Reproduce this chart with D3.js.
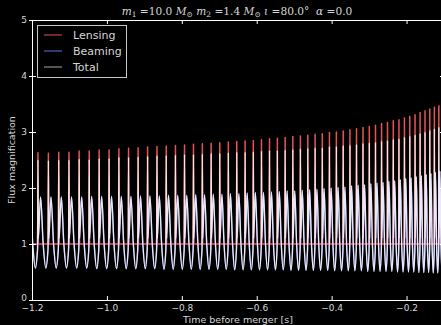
<!DOCTYPE html>
<html>
<head>
<meta charset="utf-8">
<title>flux magnification</title>
<script src="https://cdn.jsdelivr.net/npm/d3@7"></script>
<style>
    body { margin: 0; background: #000; }
    svg { display: block; }
    text { font-family: "DejaVu Sans", sans-serif; fill: #d6d6d6; }
</style>
</head>
<body>
<svg id="chart" width="441" height="325"></svg>
<script>
// time of each lensing spike [s], one per orbit
var spikeTimes = [-1.2120, -1.1841, -1.1562, -1.1286, -1.1013, -1.0741, -1.0473, -1.0207, -0.9942, -0.9680,
    -0.9422, -0.9167, -0.8914, -0.8663, -0.8416, -0.8170, -0.7928, -0.7689, -0.7452, -0.7217,
    -0.6987, -0.6758, -0.6533, -0.6310, -0.6091, -0.5873, -0.5659, -0.5449, -0.5241, -0.5036,
    -0.4834, -0.4636, -0.4441, -0.4249, -0.4059, -0.3873, -0.3691, -0.3511, -0.3336, -0.3163,
    -0.2994, -0.2829, -0.2667, -0.2509, -0.2354, -0.2203, -0.2056, -0.1913, -0.1773, -0.1638,
    -0.1507, -0.1379, -0.1257, -0.1138, -0.1024];
// peak of the lensing curve at each spike
var lensPeak = [2.62, 2.63, 2.62, 2.64, 2.64, 2.66, 2.66, 2.68, 2.68, 2.70,
    2.71, 2.72, 2.73, 2.74, 2.75, 2.76, 2.77, 2.78, 2.79, 2.80,
    2.81, 2.82, 2.83, 2.84, 2.85, 2.86, 2.88, 2.89, 2.90, 2.92,
    2.93, 2.94, 2.96, 2.97, 2.99, 3.00, 3.02, 3.04, 3.06, 3.08,
    3.10, 3.12, 3.15, 3.17, 3.20, 3.22, 3.25, 3.28, 3.31, 3.35,
    3.38, 3.41, 3.44, 3.47, 3.50];
// peak of the total curve at each spike
var totalPeak = [2.49, 2.50, 2.49, 2.50, 2.50, 2.52, 2.51, 2.53, 2.53, 2.55,
    2.55, 2.56, 2.57, 2.58, 2.58, 2.59, 2.60, 2.60, 2.61, 2.62,
    2.62, 2.63, 2.64, 2.64, 2.65, 2.66, 2.67, 2.67, 2.68, 2.69,
    2.70, 2.71, 2.72, 2.72, 2.74, 2.74, 2.76, 2.77, 2.78, 2.80,
    2.81, 2.82, 2.84, 2.85, 2.87, 2.88, 2.91, 2.93, 2.95, 2.98,
    3.00, 3.03, 3.06, 3.09, 3.12];
// beaming maximum / minimum in each orbit
var beamMax = [1.84, 1.84, 1.84, 1.84, 1.84, 1.84, 1.85, 1.85, 1.85, 1.85,
    1.85, 1.86, 1.86, 1.86, 1.87, 1.87, 1.87, 1.88, 1.88, 1.89,
    1.89, 1.90, 1.90, 1.91, 1.92, 1.92, 1.93, 1.94, 1.95, 1.95,
    1.96, 1.97, 1.98, 1.99, 2.00, 2.01, 2.02, 2.04, 2.05, 2.06,
    2.08, 2.09, 2.10, 2.12, 2.13, 2.15, 2.17, 2.18, 2.20, 2.22,
    2.24, 2.26, 2.28, 2.30, 2.33];
var beamMin = [0.57, 0.57, 0.57, 0.57, 0.57, 0.57, 0.56, 0.56, 0.56, 0.56,
    0.56, 0.56, 0.56, 0.55, 0.55, 0.55, 0.55, 0.55, 0.55, 0.55,
    0.55, 0.54, 0.54, 0.54, 0.54, 0.54, 0.54, 0.54, 0.53, 0.53,
    0.53, 0.53, 0.53, 0.53, 0.52, 0.52, 0.52, 0.52, 0.52, 0.51,
    0.51, 0.51, 0.51, 0.51, 0.50, 0.50, 0.50, 0.50, 0.49, 0.49,
    0.49, 0.48, 0.48, 0.48, 0.47];

var xTicks = [-1.2, -1.0, -0.8, -0.6, -0.4, -0.2];
var yTicks = [0, 1, 2, 3, 4, 5];
var seriesNames = ["Lensing", "Beaming", "Total"];
var seriesColors = ["#ff5e5e", "#7a7aff", "#ffffff"];
var seriesOpacity = [0.9, 0.9, 0.85];

var svg = d3.select("#chart");
var L = 32, R = 444, T = 20, B = 300;

var x = d3.scaleLinear().domain([-1.2, -0.1]).range([L, R]);
var y = d3.scaleLinear().domain([0, 5]).range([B, T]);

svg.append("rect").attr("width", 441).attr("height", 325).attr("fill", "#000");

svg.append("clipPath").attr("id", "clip")
    .append("rect").attr("x", L).attr("y", T).attr("width", R - L).attr("height", B - T);

// build the curve points orbit by orbit
var lensPts = [], beamPts = [], totalPts = [];
spikeTimes.forEach(function(t, i) {
    var P = i < spikeTimes.length - 1 ? spikeTimes[i + 1] - t : t - spikeTimes[i - 1];
    var w = 0.04 * P;
    var sh = 1 + 0.3 * (lensPeak[i] - 1);
    lensPts.push([t - w, 1], [t - w / 3, sh], [t, lensPeak[i]], [t + w / 3, sh], [t + w, 1]);
    beamPts.push([t, 1], [t + 0.25 * P, beamMax[i]], [t + 0.5 * P, 1], [t + 0.75 * P, beamMin[i]]);
    totalPts.push([t - w, 0.9], [t, totalPeak[i]], [t + w, 1.1],
        [t + 0.25 * P, beamMax[i]], [t + 0.5 * P, 1], [t + 0.75 * P, beamMin[i]]);
});

var lineLin = d3.line().x(function(d) { return x(d[0]); }).y(function(d) { return y(d[1]); });
var lineSmooth = d3.line().curve(d3.curveMonotoneX)
    .x(function(d) { return x(d[0]); }).y(function(d) { return y(d[1]); });

var plot = svg.append("g").attr("clip-path", "url(#clip)");
var widths = [1.5, 1.2, 1.4];
[[lensPts, lineLin], [beamPts, lineSmooth], [totalPts, lineSmooth]].forEach(function(s, i) {
    plot.append("path")
        .attr("d", s[1](s[0]))
        .attr("fill", "none")
        .attr("stroke", seriesColors[i])
        .attr("stroke-opacity", seriesOpacity[i])
        .attr("stroke-width", widths[i])
        .attr("stroke-linejoin", "round");
});

// axes
function styleAxis(g) {
    g.select(".domain").remove();
    g.selectAll(".tick line").attr("stroke", "#fff");
    g.selectAll(".tick text").attr("fill", "#d6d6d6").style("font-size", "9px")
        .style("font-family", "'DejaVu Sans', sans-serif");
}
svg.append("g").attr("transform", "translate(0," + B + ")")
    .call(d3.axisBottom(x).tickValues(xTicks).tickFormat(d3.format(".1f")).tickSizeInner(-4).tickSizeOuter(0).tickPadding(5))
    .call(styleAxis);
svg.append("g").attr("transform", "translate(0," + T + ")")
    .call(d3.axisTop(x).tickValues(xTicks).tickFormat("").tickSizeInner(-4).tickSizeOuter(0))
    .call(styleAxis);
var yAxisG = svg.append("g").attr("transform", "translate(" + L + ",0)")
    .call(d3.axisLeft(y).tickValues(yTicks).tickFormat(d3.format("d")).tickSizeInner(3).tickSizeOuter(0).tickPadding(2))
    .call(styleAxis);
// lift the "0" label a little so it clears the first x label
yAxisG.selectAll(".tick text").filter(function(d) { return d === 0; }).attr("dy", "0.1em");
svg.append("g").attr("transform", "translate(" + L + ",0)")
    .call(d3.axisLeft(y).tickValues(yTicks).tickFormat("").tickSizeInner(-4).tickSizeOuter(0))
    .call(styleAxis);
svg.append("g").attr("transform", "translate(" + R + ",0)")
    .call(d3.axisRight(y).tickValues(yTicks).tickFormat("").tickSizeInner(-4).tickSizeOuter(0))
    .call(styleAxis);

svg.append("rect").attr("x", L + 0.5).attr("y", T + 0.5).attr("width", R - L - 1).attr("height", B - T)
    .attr("fill", "none").attr("stroke", "#fff").attr("stroke-width", 1);

// axis labels
svg.append("text").attr("x", 238).attr("y", 323).attr("text-anchor", "middle")
    .style("font-size", "9.5px").text("Time before merger [s]");
svg.append("text").attr("transform", "translate(15,160) rotate(-90)").attr("text-anchor", "middle")
    .style("font-size", "9.5px").text("Flux magnification");

// title
var title = svg.append("text").attr("x", 0).attr("y", 15)
    .style("font-family", "'DejaVu Serif', serif").style("font-size", "10.6px")
    .style("white-space", "pre").attr("fill", "#e8e8e8");
var parts = [["m", "i"], ["1", "s"], [" =10.0 ", ""], ["M", "i"], ["\u2299", "s"], [" ", ""],
    ["m", "i"], ["2", "s"], [" =1.4 ", ""], ["M", "i"], ["\u2299", "s"], [" ", ""],
    ["\u03b9", "i"], [" =80.0\u00b0  ", ""], ["\u03b1", "i"], [" =0.0", ""]];
var shifted = false;
parts.forEach(function(p) {
    var ts = title.append("tspan").text(p[0]);
    if (p[1] === "i") ts.style("font-style", "italic");
    if (p[1] === "s") { ts.attr("dy", 2).style("font-size", "7.5px"); shifted = true; }
    else if (shifted) { ts.attr("dy", -2); shifted = false; }
});
var tw = title.node().getComputedTextLength();
title.attr("x", 237 - tw / 2);

// legend
var lg = svg.append("g");
lg.append("rect").attr("x", 37.5).attr("y", 25.5).attr("width", 89).attr("height", 52)
    .attr("fill", "#000").attr("stroke", "#c8c8c8").attr("stroke-width", 1);
seriesNames.forEach(function(name, i) {
    var cy = 35 + i * 16;
    lg.append("line").attr("x1", 44).attr("x2", 62).attr("y1", cy).attr("y2", cy)
        .attr("stroke", seriesColors[i]).attr("stroke-opacity", i === 2 ? 0.6 : 0.8).attr("stroke-width", 1.1);
    lg.append("text").attr("x", 73).attr("y", cy + 4).style("font-size", "11px").text(name);
});
</script>
</body>
</html>
